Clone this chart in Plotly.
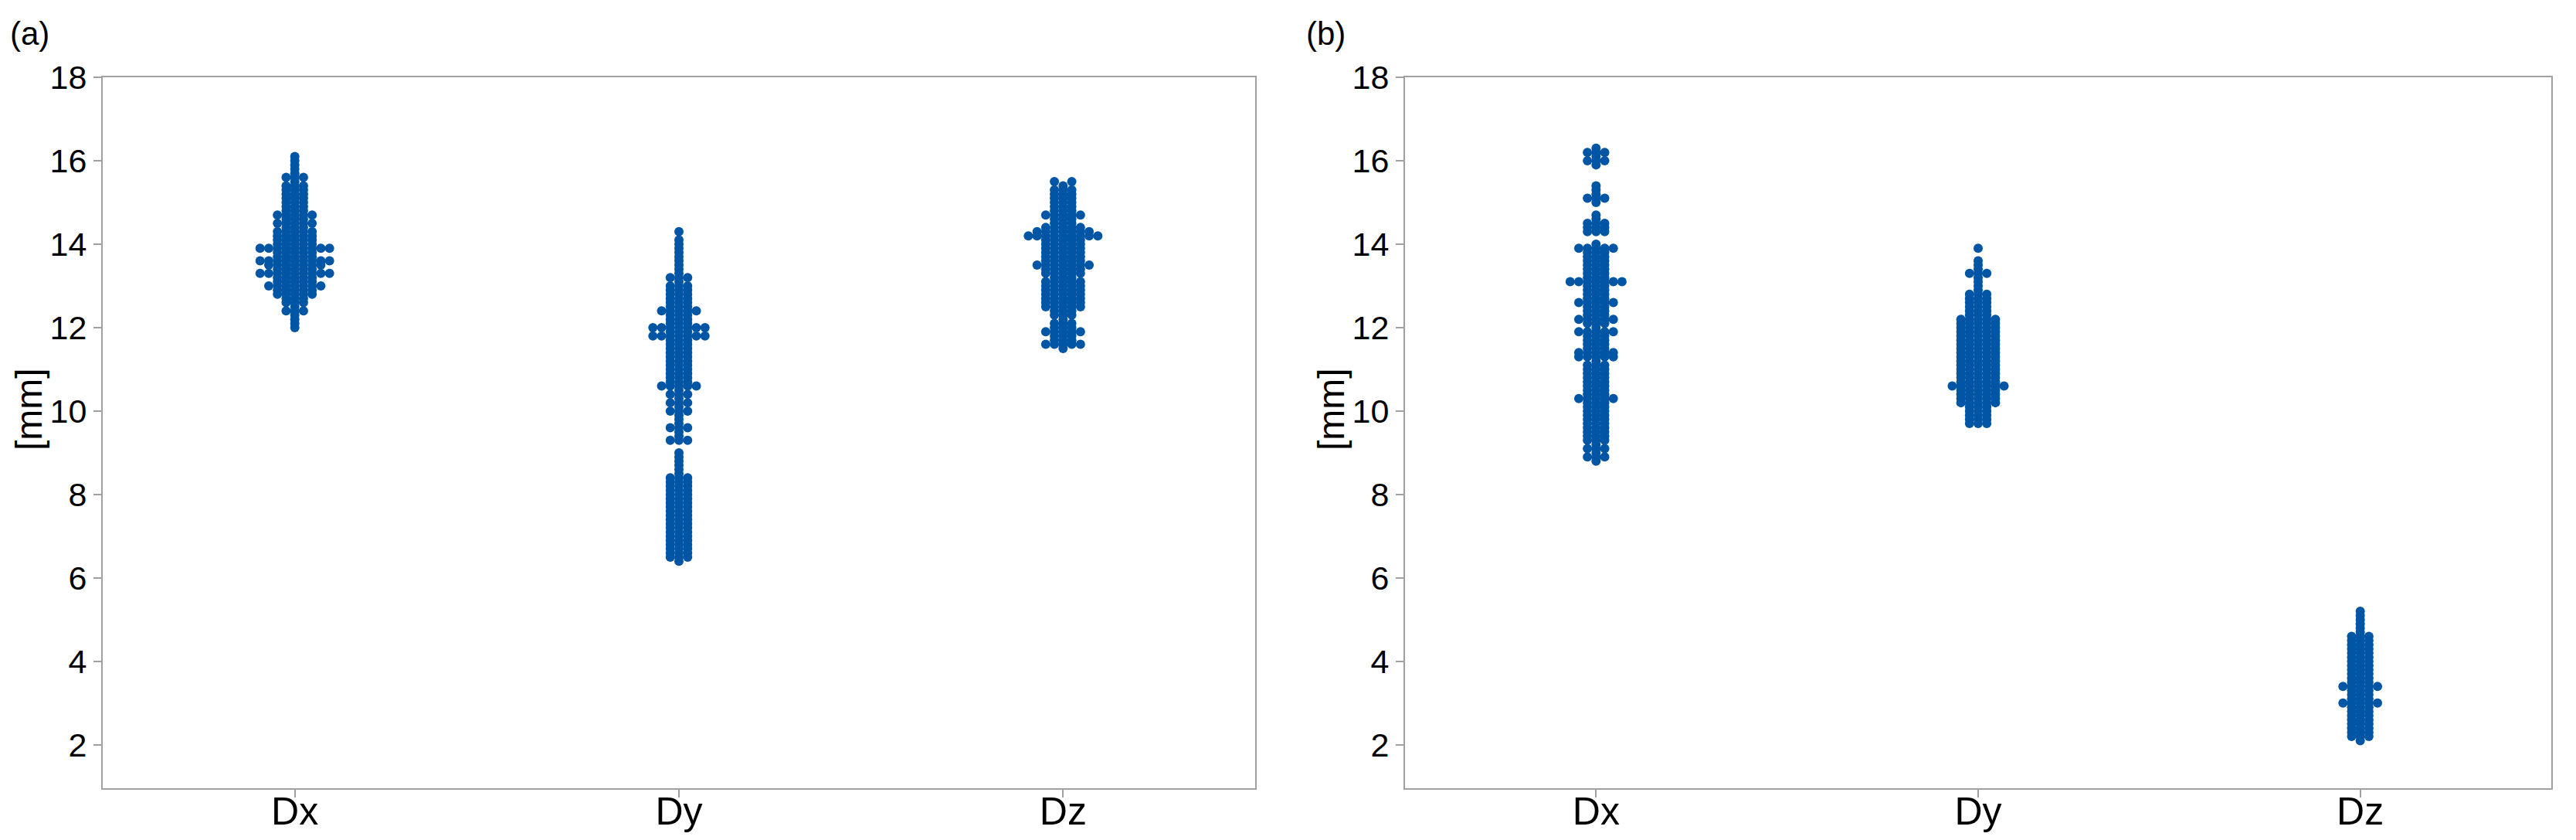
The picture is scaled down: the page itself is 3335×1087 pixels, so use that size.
import plotly.graph_objects as go

# ---------------- data ----------------
categories = ["Dx", "Dy", "Dz"]
y_ticks = [2, 4, 6, 8, 10, 12, 14, 16, 18]

# panel (a)
a_dx_values = [16.1, 16.0, 15.9, 15.8, 15.7, 15.6, 15.5, 15.4, 15.3, 15.2, 15.1, 15.0, 14.9, 14.8,
               14.7, 14.6, 14.5, 14.4, 14.3, 14.2, 14.1, 14.0, 13.9, 13.8, 13.7, 13.6, 13.5, 13.4,
               13.3, 13.2, 13.1, 13.0, 12.9, 12.8, 12.7, 12.6, 12.5, 12.4, 12.3, 12.2, 12.1, 12.0]
a_dx_counts = [1, 1, 1, 1, 1, 3, 1, 3, 3, 3, 3, 3, 3, 3,
               5, 3, 5, 3, 5, 5, 5, 5, 9, 5, 5, 9, 7, 5,
               9, 5, 5, 7, 5, 5, 3, 3, 1, 3, 1, 1, 1, 1]

a_dy_values = [14.3, 14.1, 14.0, 13.9, 13.8, 13.7, 13.6, 13.5, 13.4, 13.3, 13.2, 13.1, 13.0, 12.9,
               12.8, 12.7, 12.6, 12.5, 12.4, 12.3, 12.2, 12.1, 12.0, 11.9, 11.8, 11.7, 11.6, 11.5,
               11.4, 11.3, 11.2, 11.1, 11.0, 10.9, 10.8, 10.7, 10.6, 10.5, 10.4, 10.3, 10.2, 10.1,
               10.0, 9.9, 9.8, 9.7, 9.6, 9.5, 9.4, 9.3, 9.0, 8.9, 8.8, 8.7, 8.6, 8.5,
               8.4, 8.3, 8.2, 8.1, 8.0, 7.9, 7.8, 7.7, 7.6, 7.5, 7.4, 7.3, 7.2, 7.1,
               7.0, 6.9, 6.8, 6.7, 6.6, 6.5, 6.4]
a_dy_counts = [1, 1, 1, 1, 1, 1, 1, 1, 1, 1, 3, 1, 3, 3,
               3, 3, 3, 3, 5, 3, 3, 3, 7, 3, 7, 3, 3, 3,
               3, 3, 3, 3, 3, 3, 3, 3, 5, 1, 3, 1, 3, 1,
               3, 1, 1, 1, 3, 1, 1, 3, 1, 1, 1, 1, 1, 1,
               3, 3, 3, 3, 3, 3, 3, 3, 3, 3, 3, 3, 3, 3,
               3, 3, 3, 3, 3, 3, 1]

a_dz_values = [15.5, 15.4, 15.3, 15.2, 15.1, 15.0, 14.9, 14.8, 14.7, 14.6, 14.5, 14.4, 14.3, 14.2,
               14.1, 14.0, 13.9, 13.8, 13.7, 13.6, 13.5, 13.4, 13.3, 13.2, 13.1, 13.0, 12.9, 12.8,
               12.7, 12.6, 12.5, 12.4, 12.3, 12.2, 12.1, 12.0, 11.9, 11.8, 11.7, 11.6, 11.5]
a_dz_counts = [2, 1, 3, 3, 3, 3, 3, 3, 5, 3, 3, 5, 7, 9,
               5, 5, 5, 5, 5, 5, 7, 5, 5, 3, 5, 5, 5, 5,
               5, 5, 5, 3, 3, 1, 3, 3, 5, 3, 3, 5, 1]

# panel (b)
b_dx_values = [16.3, 16.2, 16.1, 16.0, 15.9, 15.4, 15.3, 15.2, 15.1, 15.0, 14.7, 14.6, 14.5, 14.4,
               14.3, 14.0, 13.9, 13.8, 13.7, 13.6, 13.5, 13.4, 13.3, 13.2, 13.1, 13.0, 12.9, 12.8,
               12.7, 12.6, 12.5, 12.4, 12.3, 12.2, 12.1, 12.0, 11.9, 11.8, 11.7, 11.6, 11.5, 11.4,
               11.3, 11.2, 11.1, 11.0, 10.9, 10.8, 10.7, 10.6, 10.5, 10.4, 10.3, 10.2, 10.1, 10.0,
               9.9, 9.8, 9.7, 9.6, 9.5, 9.4, 9.3, 9.2, 9.1, 9.0, 8.9, 8.8]
b_dx_counts = [1, 3, 1, 3, 1, 1, 1, 1, 3, 1, 1, 1, 3, 3,
               3, 1, 5, 3, 3, 3, 3, 3, 3, 3, 7, 3, 3, 3,
               3, 5, 3, 3, 3, 5, 3, 1, 5, 3, 3, 3, 3, 5,
               5, 1, 3, 3, 3, 3, 3, 3, 3, 3, 5, 3, 3, 3,
               3, 3, 3, 3, 3, 3, 3, 1, 3, 1, 3, 1]

b_dy_values = [13.9, 13.6, 13.5, 13.4, 13.3, 13.2, 13.1, 13.0, 12.9, 12.8, 12.7, 12.6, 12.5, 12.4,
               12.3, 12.2, 12.1, 12.0, 11.9, 11.8, 11.7, 11.6, 11.5, 11.4, 11.3, 11.2, 11.1, 11.0,
               10.9, 10.8, 10.7, 10.6, 10.5, 10.4, 10.3, 10.2, 10.1, 10.0, 9.9, 9.8, 9.7]
b_dy_counts = [1, 1, 1, 1, 3, 1, 1, 1, 1, 3, 3, 3, 3, 3,
               3, 5, 5, 5, 5, 5, 5, 5, 5, 5, 5, 5, 5, 5,
               5, 5, 5, 7, 5, 5, 5, 5, 3, 3, 3, 3, 3]

b_dz_values = [5.2, 5.1, 5.0, 4.9, 4.8, 4.7, 4.6, 4.5, 4.4, 4.3, 4.2, 4.1, 4.0, 3.9,
               3.8, 3.7, 3.6, 3.5, 3.4, 3.3, 3.2, 3.1, 3.0, 2.9, 2.8, 2.7, 2.6, 2.5,
               2.4, 2.3, 2.2, 2.1]
b_dz_counts = [1, 1, 1, 1, 1, 1, 3, 3, 3, 3, 3, 3, 3, 3,
               3, 3, 3, 3, 5, 3, 3, 3, 5, 3, 3, 3, 3, 3,
               3, 3, 3, 1]

# ---------------- styling ----------------
DOT_COLOR = "#0055A5"
AXIS_GRAY = "#a0a0a0"
FONT = "Liberation Sans"
W, H = 3335, 1087
SWARM_STEP = 0.0226   # horizontal spacing between stacked dots (category units)


def swarm(center, values, counts):
    xs, ys = [], []
    for v, n in zip(values, counts):
        if n % 2:
            offs = [0] + [s * k for k in range(1, (n - 1) // 2 + 1) for s in (1, -1)]
        else:
            offs = [s * k for k in range(1, n // 2 + 1) for s in (1, -1)]
        for o in offs:
            xs.append(center + o * SWARM_STEP)
            ys.append(v)
    return xs, ys


panels = [
    ("x", "y", [(a_dx_values, a_dx_counts), (a_dy_values, a_dy_counts), (a_dz_values, a_dz_counts)]),
    ("x2", "y2", [(b_dx_values, b_dx_counts), (b_dy_values, b_dy_counts), (b_dz_values, b_dz_counts)]),
]

fig = go.Figure()
for xa, ya, groups in panels:
    for i, (vals, cnts) in enumerate(groups):
        xs, ys = swarm(i, vals, cnts)
        fig.add_trace(go.Scatter(
            x=xs, y=ys, mode="markers", xaxis=xa, yaxis=ya,
            marker=dict(size=12, color=DOT_COLOR, line=dict(width=0)),
            showlegend=False, hoverinfo="y",
        ))

ydom = [(H - 1020) / H, (H - 100) / H]
common_x = dict(
    range=[-0.5, 2.5], tickmode="array", tickvals=[0, 1, 2], ticktext=categories,
    showline=True, mirror=True, linecolor=AXIS_GRAY, linewidth=2,
    ticks="outside", ticklen=10, tickwidth=2, tickcolor=AXIS_GRAY,
    showgrid=False, zeroline=False, automargin=False, ticklabelstandoff=-25,
    tickfont=dict(family=FONT, size=50, color="black"),
)
common_y = dict(
    range=[0.96, 18], tickmode="array", tickvals=y_ticks, ticktext=[str(t) for t in y_ticks],
    showline=True, mirror=True, linecolor=AXIS_GRAY, linewidth=2,
    ticks="outside", ticklen=10, tickwidth=2, tickcolor=AXIS_GRAY,
    showgrid=False, zeroline=False, automargin=False,
    tickfont=dict(family=FONT, size=43, color="black"),
    domain=ydom,
)

fig.update_layout(
    width=W, height=H, autosize=False,
    margin=dict(l=0, r=0, t=0, b=0, pad=0),
    paper_bgcolor="white", plot_bgcolor="white",
    xaxis=dict(common_x, domain=[133 / W, 1625 / W], anchor="y"),
    yaxis=dict(common_y, anchor="x"),
    xaxis2=dict(common_x, domain=[1819 / W, 3303 / W], anchor="y2"),
    yaxis2=dict(common_y, anchor="x2"),
)

annotations = [
    ("(a)", 38 / W, (H - 43) / H, 42, 0),
    ("(b)", 1716 / W, (H - 43) / H, 42, 0),
    ("[mm]", 37 / W, (H - 530) / H, 48, -90),
    ("[mm]", 1723 / W, (H - 530) / H, 48, -90),
]
for text, x, y, size, ang in annotations:
    fig.add_annotation(text=text, x=x, y=y, xref="paper", yref="paper",
                       xanchor="center", yanchor="middle", showarrow=False,
                       textangle=ang, font=dict(family=FONT, size=size, color="black"))

fig.write_html("out.html", config={"displayModeBar": False},
               post_script="document.body.style.margin='0';")
